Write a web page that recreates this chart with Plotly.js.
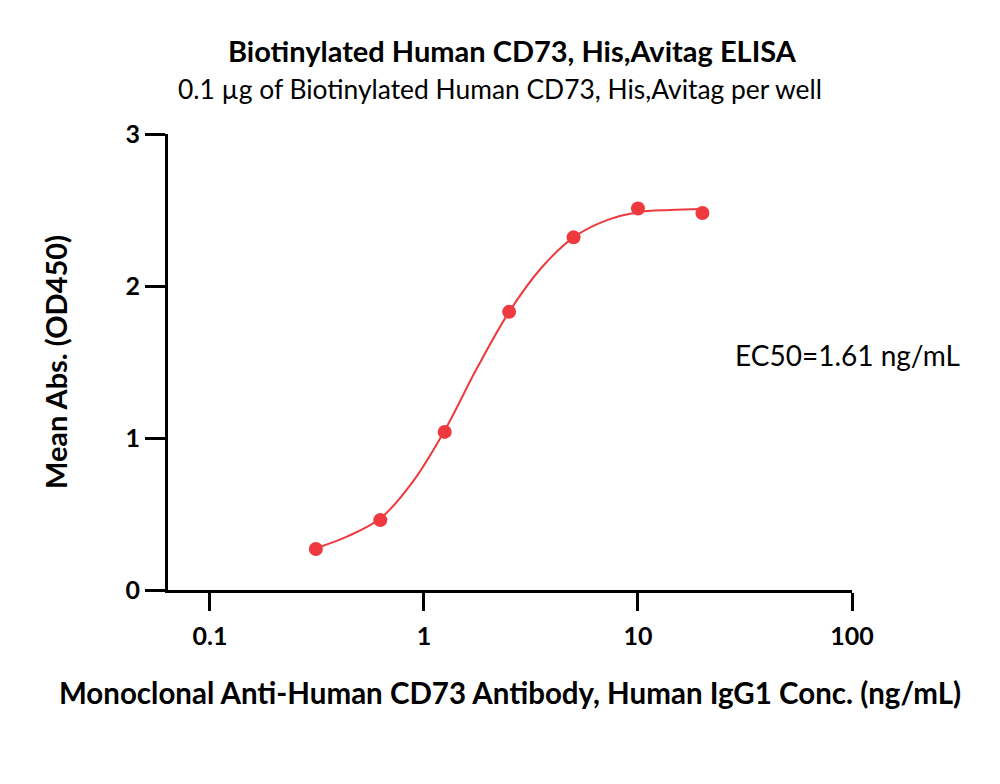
<!DOCTYPE html>
<html>
<head>
<meta charset="utf-8">
<script src="https://cdn.plot.ly/plotly-3.0.1.min.js"></script>
<style>body{margin:0;background:#fff}#chart{width:1000px;height:784px}</style>
</head>
<body>
<div id="chart"></div>
<script>
// Measured points
var concentrations = [0.3125, 0.625, 1.25, 2.5, 5, 10, 20];
var meanAbs = [0.27, 0.46, 1.04, 1.83, 2.32, 2.51, 2.48];
// Fitted curve
var fitConc = [0.3125, 0.442, 0.625, 0.884, 1.25, 1.77, 2.5, 3.54, 5, 7.07, 10, 14.1, 20];
var fitAbs = [0.275, 0.355, 0.47, 0.71, 1.05, 1.46, 1.83, 2.12, 2.32, 2.43, 2.485, 2.50, 2.507];
var xTickVals = [0.1, 1, 10, 100];
var xTickText = ['0.1', '1', '10', '100'];
var yTickVals = [0, 1, 2, 3];
var yTickText = ['0', '1', '2', '3'];

var titleText = '<b>Biotinylated Human CD73, His,Avitag ELISA</b>';
var subtitleText = '0.1 \u00b5g of Biotinylated Human CD73, His,Avitag per well';
var xTitle = '<b>Monoclonal Anti-Human CD73 Antibody, Human IgG1 Conc. (ng/mL)</b>';
var yTitle = '<b>Mean Abs. (OD450)</b>';
var ec50Text = 'EC50=1.61 ng/mL';

var red = '#EE3A3F';
var FONT = 'Lato, "Open Sans", sans-serif';

var traces = [
  {x: fitConc, y: fitAbs, type: 'scatter', mode: 'lines',
   line: {color: red, width: 2, shape: 'spline', smoothing: 1}, hoverinfo: 'skip', showlegend: false},
  {x: concentrations, y: meanAbs, type: 'scatter', mode: 'markers',
   marker: {color: red, size: 14}, showlegend: false}
];

var layout = {
  width: 1000, height: 784,
  paper_bgcolor: '#fff', plot_bgcolor: '#fff',
  margin: {l: 168, r: 148, t: 134, b: 194},
  font: {family: FONT, color: '#000'},
  showlegend: false,
  xaxis: {
    type: 'log', range: [-1.196, 2], showgrid: false, zeroline: false,
    showline: true, linecolor: '#000', linewidth: 3,
    ticks: 'outside', ticklen: 18, tickwidth: 3, tickcolor: '#000',
    tickvals: xTickVals, ticktext: xTickText, ticklabelstandoff: 4,
    tickfont: {family: FONT, size: 25, color: '#000', weight: 'bold'},
    title: {text: xTitle, font: {family: FONT, size: 29.5, color: '#000'}, standoff: 35}
  },
  yaxis: {
    range: [0, 3], showgrid: false, zeroline: false,
    showline: true, linecolor: '#000', linewidth: 3,
    ticks: 'outside', ticklen: 20, tickwidth: 3, tickcolor: '#000',
    tickvals: yTickVals, ticktext: yTickText,
    tickfont: {family: FONT, size: 25, color: '#000', weight: 'bold'},
    title: {text: yTitle, font: {family: FONT, size: 29, color: '#000'}, standoff: 50}
  },
  annotations: [
    {text: titleText, xref: 'paper', yref: 'paper', x: 0.503, y: 1.184, xanchor: 'center', yanchor: 'middle',
     showarrow: false, font: {family: FONT, size: 29, color: '#000'}},
    {text: subtitleText, xref: 'paper', yref: 'paper', x: 0.485, y: 1.099, xanchor: 'center', yanchor: 'middle',
     showarrow: false, font: {family: FONT, size: 26.4, color: '#000'}},
    {text: ec50Text, xref: 'paper', yref: 'paper', x: 0.826, y: 0.515, xanchor: 'left', yanchor: 'middle',
     showarrow: false, font: {family: FONT, size: 28, color: '#000'}}
  ]
};

Plotly.newPlot('chart', traces, layout, {displayModeBar: false, staticPlot: true});
</script>
</body>
</html>
